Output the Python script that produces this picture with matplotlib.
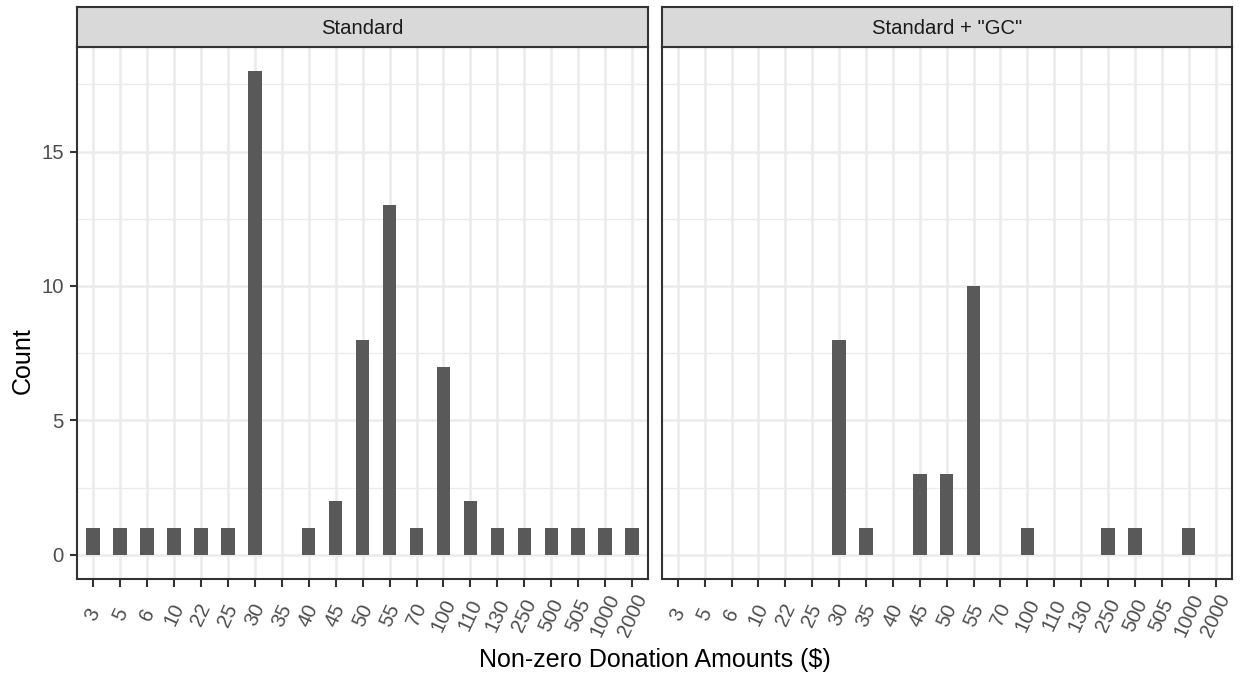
import numpy as np
import matplotlib.pyplot as plt

plt.rcParams['font.family'] = ['Liberation Sans', 'DejaVu Sans']

# data
amounts = ['3', '5', '6', '10', '22', '25', '30', '35', '40', '45', '50', '55',
           '70', '100', '110', '130', '250', '500', '505', '1000', '2000']
standard_counts = [1, 1, 1, 1, 1, 1, 18, 0, 1, 2, 8, 13, 1, 7, 2, 1, 1, 1, 1, 1, 1]
gc_counts = [0, 0, 0, 0, 0, 0, 8, 1, 0, 3, 3, 10, 0, 1, 0, 0, 1, 1, 0, 1, 0]
facet_titles = ['Standard', 'Standard + "GC"']

W, H = 1241, 674
BAR = '#595959'
DARK = '#333333'
GRID = '#EBEBEB'
SMALL = 14.6
TITLE = 18


def box(x0, y0, x1, y1):
    # pixel box -> figure fraction
    return [x0 / W, 1 - y1 / H, (x1 - x0) / W, (y1 - y0) / H]


fig = plt.figure(figsize=(W / 100, H / 100), dpi=100)

panels = [(77, 648.3), (661.7, 1231.7)]
series = [standard_counts, gc_counts]
x = np.arange(len(amounts))

for i, ((x0, x1), counts, title) in enumerate(zip(panels, series, facet_titles)):
    ax = fig.add_axes(box(x0, 46.7, x1, 579))
    counts = np.array(counts)
    keep = counts > 0
    ax.bar(x[keep], counts[keep], width=0.5, color=BAR, zorder=3)

    ax.set_xlim(-0.6, len(amounts) - 0.4)
    ax.set_ylim(-0.9, 18.9)
    ax.set_xticks(x)
    ax.set_xticklabels(amounts)
    ax.set_yticks([0, 5, 10, 15])
    ax.set_yticks([2.5, 7.5, 12.5, 17.5], minor=True)
    ax.grid(True, which='major', color=GRID, lw=1.8, zorder=0)
    ax.grid(True, which='minor', axis='y', color=GRID, lw=0.9, zorder=0)
    ax.tick_params(axis='both', which='major', length=5.4, width=1.5, color=DARK,
                   labelsize=SMALL, labelcolor='#4D4D4D')
    ax.tick_params(axis='y', which='minor', length=0)
    ax.tick_params(axis='y', pad=4)
    ax.tick_params(axis='x', pad=20.5)
    for lab in ax.get_xticklabels():
        lab.set_rotation(65)
        lab.set_ha('center')
        lab.set_va('center')
    if i == 1:
        ax.tick_params(axis='y', which='major', length=0, labelleft=False)
    for sp in ax.spines.values():
        sp.set_color(DARK)
        sp.set_linewidth(1.5)
        sp.set_zorder(4)

    strip = fig.add_axes(box(x0, 7.3, x1, 46.7))
    strip.set_facecolor('#D9D9D9')
    strip.set_xticks([])
    strip.set_yticks([])
    for sp in strip.spines.values():
        sp.set_color(DARK)
        sp.set_linewidth(1.5)
    strip.text(0.5, 0.5, title, transform=strip.transAxes, ha='center',
               va='center_baseline', fontsize=SMALL, color='#1A1A1A')

fig.text(654.5 / W, 1 - 667 / H, 'Non-zero Donation Amounts ($)', ha='center',
         va='baseline', fontsize=TITLE, color='black')
fig.text(23 / W, 313 / H, 'Count', rotation=90, ha='center', va='center',
         fontsize=TITLE, color='black')

fig.savefig('out.png', dpi=100)
